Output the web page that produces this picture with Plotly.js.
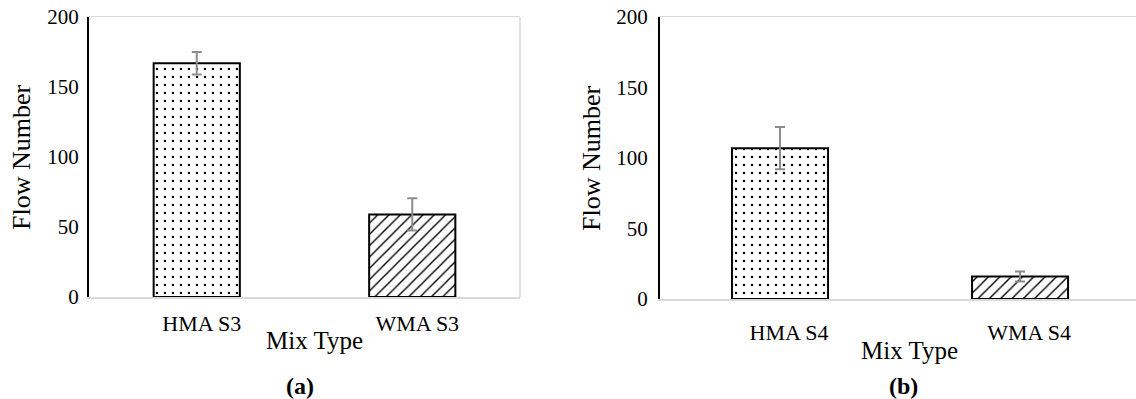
<!DOCTYPE html>
<html>
<head>
<meta charset="utf-8">
<script src="https://cdn.plot.ly/plotly-3.0.1.min.js"></script>
<style>html,body{margin:0;padding:0;background:#fff;}#chart{width:1136px;height:399px;}</style>
</head>
<body>
<div id="chart"></div>
<script>
// ---- data ----
const categoriesA = ["HMA S3", "WMA S3"];
const valuesA = [167, 59];
const errorsA = [8, 11.5];

const categoriesB = ["HMA S4", "WMA S4"];
const valuesB = [107, 16];
const errorsB = [15, 3.5];

const yTicks = [0, 50, 100, 150, 200];
const yTitle = "Flow Number";
const xTitle = "Mix Type";
const panelLabels = ["(a)", "(b)"];
const patterns = [".", "/"];

// ---- styling ----
const FONT = "Liberation Serif";
const errStyle = {type: "data", visible: true, color: "#8c8c8c", thickness: 2, width: 5};

function barTrace(x, y, err, xa, ya) {
  return {
    type: "bar",
    x: x, y: y,
    xaxis: xa, yaxis: ya,
    width: 0.4,
    error_y: Object.assign({array: err}, errStyle),
    marker: {
      color: "white",
      line: {color: "black", width: 2},
      pattern: {
        shape: patterns,
        fgcolor: "black",
        bgcolor: "white",
        size: [8, 8],
        solidity: [0.08, 0.17]
      }
    },
    hoverinfo: "x+y",
    showlegend: false
  };
}

const data = [
  barTrace(categoriesA, valuesA, errorsA, "x", "y"),
  barTrace(categoriesB, valuesB, errorsB, "x2", "y2")
];

const yBase = {
  range: [0, 200],
  tickvals: yTicks,
  ticktext: yTicks.map(String),
  showgrid: false,
  zeroline: false,
  showline: true,
  linecolor: "black",
  linewidth: 2,
  ticks: "",
  tickfont: {family: FONT, size: 21, color: "black"},
  fixedrange: true
};
const xBase = {
  type: "category",
  showgrid: false,
  zeroline: false,
  showline: true,
  mirror: true,
  linecolor: "#d9d9d9",
  linewidth: 1.5,
  ticks: "",
  tickfont: {family: FONT, size: 22, color: "black"},
  fixedrange: true
};

function ann(text, x, y, size, angle) {
  return {text: text, xref: "paper", yref: "paper", x: x / 1136, y: 1 - y / 399,
          xanchor: "center", yanchor: "middle", textangle: angle || 0,
          showarrow: false, font: {family: FONT, size: size, color: "black"}};
}

const layout = {
  width: 1136, height: 399,
  margin: {l: 0, r: 0, t: 0, b: 0},
  paper_bgcolor: "white",
  plot_bgcolor: "white",
  xaxis: Object.assign({}, xBase, {domain: [89/1136, 520/1136], range: [-0.5, 1.5], anchor: "y", ticklabelstandoff: 6, ticklabelshift: 5}),
  yaxis: Object.assign({}, yBase, {domain: [102/399, 382/399], anchor: "x", ticklabelstandoff: 4}),
  xaxis2: Object.assign({}, xBase, {domain: [660/1136, 1], range: [-0.5, 1.483], anchor: "y2", ticklabelstandoff: 13, ticklabelshift: 9}),
  yaxis2: Object.assign({}, yBase, {domain: [100/399, 382/399], anchor: "x2", ticklabelstandoff: 6}),
  shapes: [
    {type: "line", xref: "x domain", yref: "y domain", x0: 1, x1: 1, y0: 0, y1: 1,
     line: {color: "#d9d9d9", width: 1.5}, layer: "below"}
  ],
  annotations: [
    ann(yTitle, 22, 157, 26, -90),
    ann(yTitle, 591, 158, 26, -90),
    ann(xTitle, 314, 340, 25),
    ann(xTitle, 909, 350, 25),
    ann("<b>" + panelLabels[0] + "</b>", 300, 386, 24),
    ann("<b>" + panelLabels[1] + "</b>", 903, 386, 24)
  ]
};

Plotly.newPlot("chart", data, layout, {displayModeBar: false, staticPlot: true});
</script>
</body>
</html>
